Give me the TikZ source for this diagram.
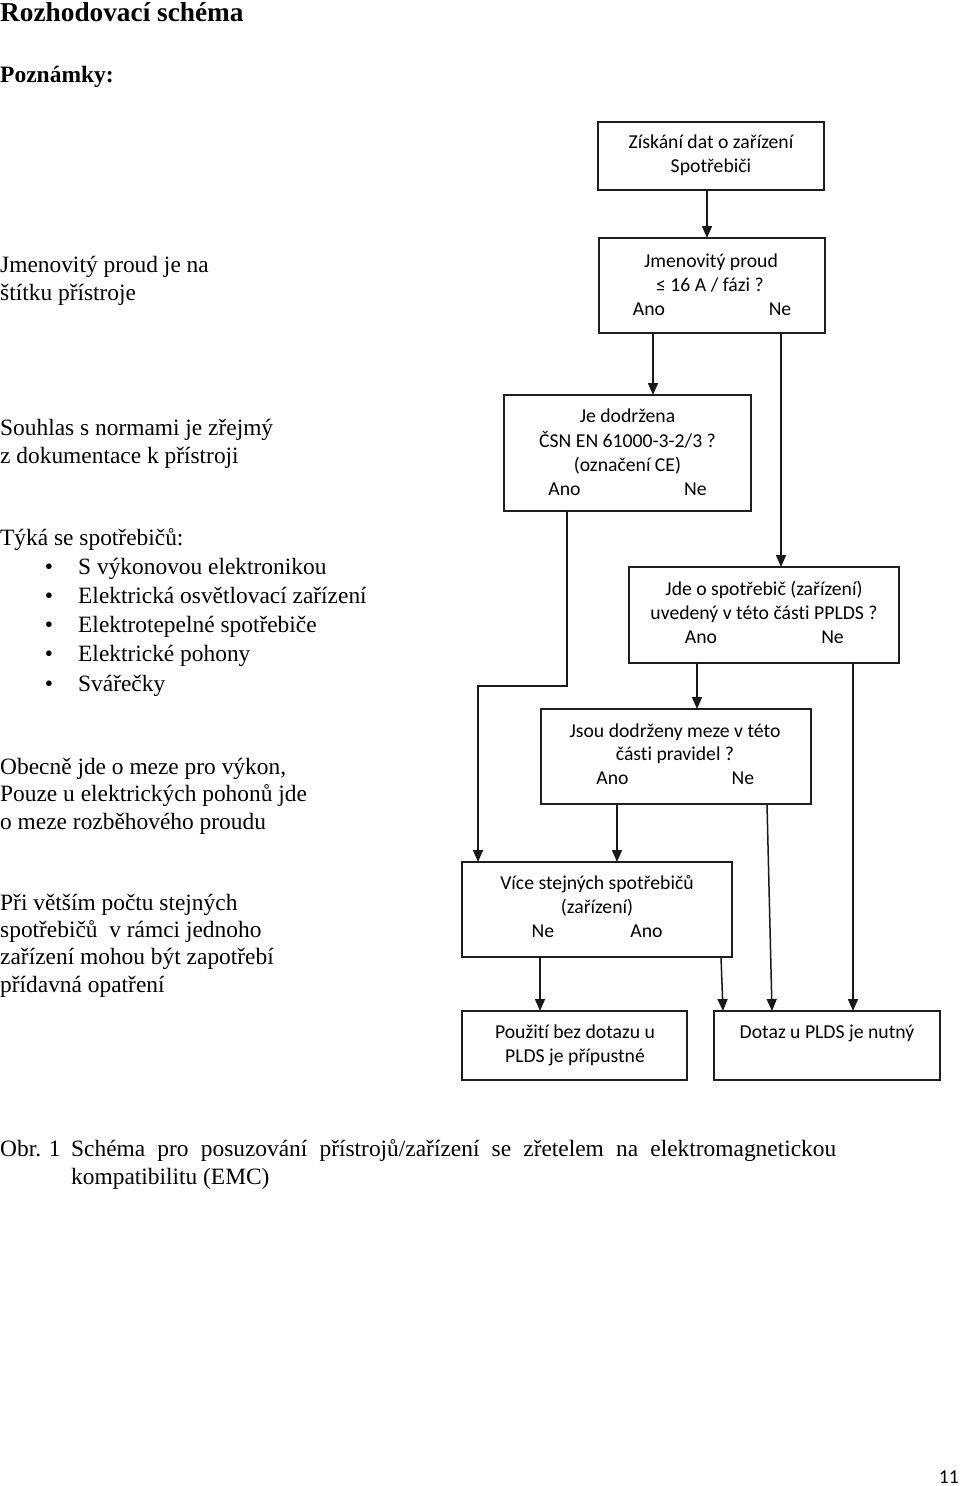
\documentclass[tikz,border=0pt]{standalone}
\usepackage{fontspec}
\setmainfont{Liberation Serif}
\newfontfamily\boxfam[Ligatures={NoCommon,NoRare,NoContextual}]{Carlito}
\usetikzlibrary{arrows.meta}
\newcommand{\boxfont}{\boxfam\fontsize{19.7}{24}\selectfont}
\newcommand{\bodyfont}{\fontsize{23.4}{28}\selectfont}
\tikzset{
  box/.style={draw=black!88, line width=1.5pt, inner sep=0pt, outer sep=0pt, anchor=north west},
  arr/.style={draw=black!90, line width=1.5pt, -{Triangle[length=12pt,width=10pt]}},
  bt/.style={font=\boxfont, anchor=base, inner sep=0pt},
  lt/.style={font=\bodyfont, anchor=base west, inner sep=0pt},
  bul/.style={font=\bodyfont, anchor=base, inner sep=0pt},
}
\begin{document}
\begin{tikzpicture}[x=1pt,y=-1pt]
\fill[white] (0,0) rectangle (960,1486);
\useasboundingbox (0,0) rectangle (960,1486);

% left notes
\node[lt, font=\bfseries\fontsize{27.3}{32}\selectfont] (title) at (0,21) {Rozhodovací schéma};
\node[lt, font=\bfseries\fontsize{23.5}{28}\selectfont] (pozn) at (0,82) {Poznámky:};
\node[lt] (n1a) at (0,272) {Jmenovitý proud je na};
\node[lt] (n1b) at (0,300) {štítku přístroje};
\node[lt] (n2a) at (0,435) {Souhlas s normami je zřejmý};
\node[lt] (n2b) at (0,463) {z dokumentace k přístroji};
\node[lt] (n3) at (0,545) {Týká se spotřebičů:};
\node[bul] (u1) at (49,574) {•};
\node[bul] (u2) at (49,603.3) {•};
\node[bul] (u3) at (49,632.6) {•};
\node[bul] (u4) at (49,661.9) {•};
\node[bul] (u5) at (49,691.2) {•};
\node[lt] (i1) at (78,574) {S výkonovou elektronikou};
\node[lt] (i2) at (78,603.3) {Elektrická osvětlovací zařízení};
\node[lt] (i3) at (78,632.6) {Elektrotepelné spotřebiče};
\node[lt] (i4) at (78,661.9) {Elektrické pohony};
\node[lt] (i5) at (78,691.2) {Svářečky};
\node[lt] (n4a) at (0,774) {Obecně jde o meze pro výkon,};
\node[lt] (n4b) at (0,801.5) {Pouze u elektrických pohonů jde};
\node[lt] (n4c) at (0,829) {o meze rozběhového proudu};
\node[lt] (n5a) at (0,910) {Při větším počtu stejných};
\node[lt] (n5b) at (0,937.3) {spotřebičů\ \ v rámci jednoho};
\node[lt] (n5c) at (0,964.6) {zařízení mohou být zapotřebí};
\node[lt] (n5d) at (0,992) {přídavná opatření};

% caption
\node[lt] (cap0) at (0,1156) {Obr. 1};
\node[lt] (cap1) at (71,1156) {\makebox[765pt][s]{Schéma pro posuzování přístrojů/zařízení se zřetelem na elektromagnetickou}};
\node[lt] (cap2) at (71,1184) {kompatibilitu (EMC)};
\node[bt, anchor=base east] (page) at (959,1483) {11};

% boxes
\node[box, minimum width=226pt, minimum height=68pt] (b1) at (598,122) {};
\node[box, minimum width=226pt, minimum height=95pt] (b2) at (599,238) {};
\node[box, minimum width=247pt, minimum height=116pt] (b3) at (504,395) {};
\node[box, minimum width=270pt, minimum height=96pt] (b4) at (629,567) {};
\node[box, minimum width=270pt, minimum height=95pt] (b5) at (541,709) {};
\node[box, minimum width=270pt, minimum height=95pt] (b6) at (462,862) {};
\node[box, minimum width=225pt, minimum height=69pt] (b8) at (462,1011) {};
\node[box, minimum width=226pt, minimum height=69pt] (b7) at (714,1011) {};

% box texts
\node[bt] (t1a) at (711,148.5) {Získání dat o zařízení};
\node[bt] (t1b) at (711,172.5) {Spotřebiči};
\node[bt] (t2a) at (711,267.5) {Jmenovitý proud};
\node[bt] (t2b) at (710,291.5) {≤ 16 A / fázi ?};
\node[bt] (t2c) at (649,315.5) {Ano};
\node[bt] (t2d) at (780,315.5) {Ne};
\node[bt] (t3a) at (627.5,422.5) {Je dodržena};
\node[bt] (t3b) at (627.5,447.5) {ČSN EN 61000-3-2/3 ?};
\node[bt] (t3c) at (627.5,471.5) {(označení CE)};
\node[bt] (t3d) at (564.5,495.5) {Ano};
\node[bt] (t3e) at (695.5,495.5) {Ne};
\node[bt] (t4a) at (764,595.5) {Jde o spotřebič (zařízení)};
\node[bt] (t4b) at (764,619.5) {uvedený v této části PPLDS ?};
\node[bt] (t4c) at (701,643.5) {Ano};
\node[bt] (t4d) at (832.5,643.5) {Ne};
\node[bt] (t5a) at (675,737.5) {Jsou dodrženy meze v této};
\node[bt] (t5b) at (675,760.5) {části pravidel ?};
\node[bt] (t5c) at (612.5,784.5) {Ano};
\node[bt] (t5d) at (743,784.5) {Ne};
\node[bt] (t6a) at (597,889.5) {Více stejných spotřebičů};
\node[bt] (t6b) at (597,913.5) {(zařízení)};
\node[bt] (t6c) at (543,937.5) {Ne};
\node[bt] (t6d) at (646.5,937.5) {Ano};
\node[bt] (t8a) at (575,1038.5) {Použití bez dotazu u};
\node[bt] (t8b) at (575,1062) {PLDS je přípustné};
\node[bt] (t7a) at (827,1038.5) {Dotaz u PLDS je nutný};

% connectors
\draw[arr] ([xshift=-4pt]b1.south) -- ([xshift=-5pt]b2.north);
\draw[arr] ([xshift=-59pt]b2.south) -- ([xshift=25.5pt]b3.north);
\draw[arr] ([xshift=69pt]b2.south) -- ([xshift=17pt]b4.north);
\draw[arr] ([xshift=-60.5pt]b3.south) -- ++(0,175) -| ([xshift=-119pt]b6.north);
\draw[arr] ([xshift=-67pt]b4.south) -- ([xshift=21pt]b5.north);
\draw[arr] ([xshift=89pt]b4.south) -- ([xshift=26pt]b7.north);
\draw[arr] ([xshift=-59pt]b5.south) -- ([xshift=20pt]b6.north);
\draw[arr] ([xshift=91pt]b5.south) -- ([xshift=-55pt]b7.north);
\draw[arr] ([xshift=-57pt]b6.south) -- ([xshift=-34.5pt]b8.north);
\draw[arr] ([xshift=124pt]b6.south) -- ([xshift=-104pt]b7.north);
\end{tikzpicture}
\end{document}
